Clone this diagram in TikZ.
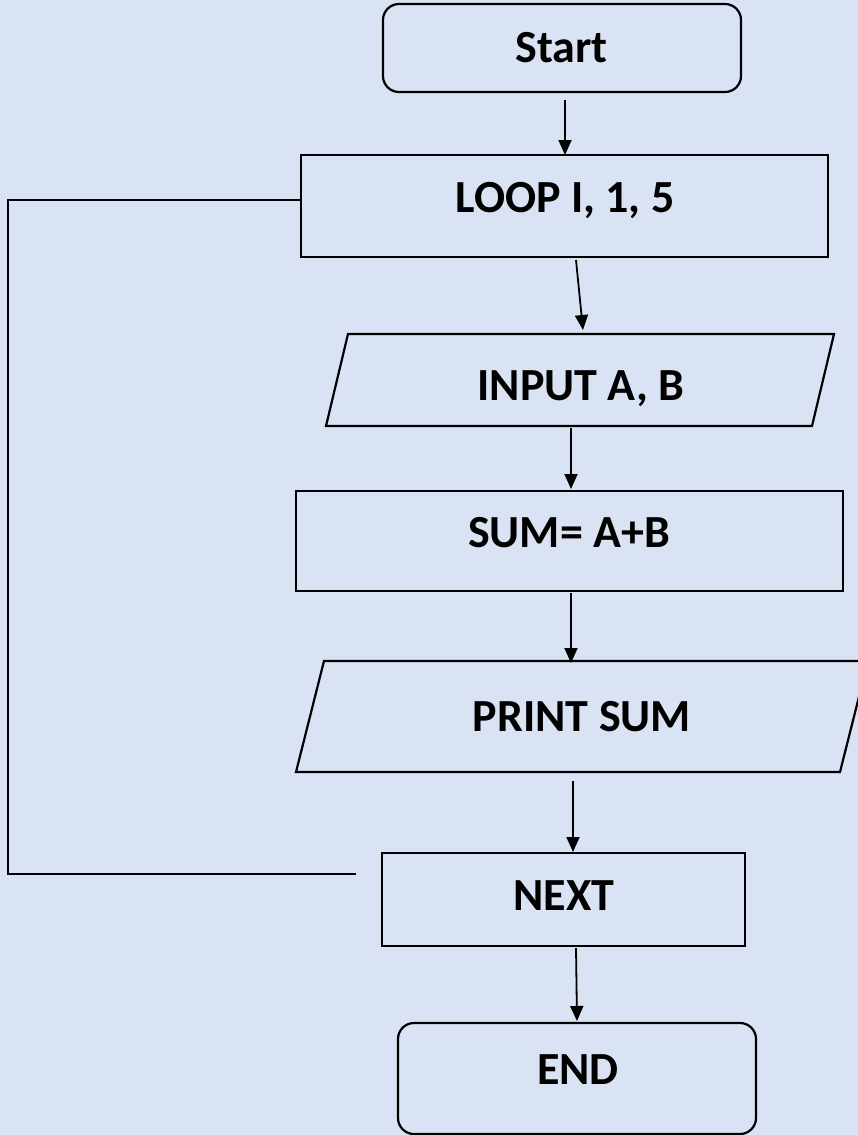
\documentclass[tikz,border=0pt]{standalone}
\usepackage{fontspec}
\setmainfont{Carlito}
\usetikzlibrary{arrows.meta}
\definecolor{bgblue}{HTML}{DAE3F3}
\tikzset{
  boxline/.style={draw=black, line width=2.2pt},
  rbox/.style={boxline, rectangle, inner sep=0pt, outer sep=0pt},
  rrbox/.style={rbox, rounded corners=16pt},
  pbox/.style={rectangle, inner sep=0pt, outer sep=0pt},
  txt/.style={inner sep=0pt, text height=30pt, text depth=0pt, font=\bfseries\fontsize{46}{50}\selectfont},
  arr/.style={line width=1.8pt, -{Triangle[length=15pt,width=13pt]}},
  link/.style={line width=1.8pt}
}
\begin{document}
\begin{tikzpicture}[x=1pt,y=-1pt]
\useasboundingbox (0,0) rectangle (858,1135);
\fill[bgblue] (0,0) rectangle (858,1135);

% shapes
\node[rrbox, minimum width=358pt, minimum height=88pt] (start) at (562,48) {};
\node[rbox, minimum width=527pt, minimum height=102pt] (loop) at (564.5,206) {};
\node[pbox, minimum width=508pt, minimum height=92pt] (input) at (580,380) {};
\draw[boxline] (input.south west) -- ([xshift=-22pt]input.south east) -- (input.north east) -- ([xshift=22pt]input.north west) -- cycle;
\node[rbox, minimum width=547pt, minimum height=100pt] (sum) at (569.5,541) {};
\node[pbox, minimum width=572pt, minimum height=111pt] (print) at (582,716.5) {};
\draw[boxline] (print.south west) -- ([xshift=-28pt]print.south east) -- (print.north east) -- ([xshift=28pt]print.north west) -- cycle;
\node[rbox, minimum width=363pt, minimum height=93pt] (next) at (563.5,899.5) {};
\node[rrbox, minimum width=358pt, minimum height=111pt] (end) at (577,1078.5) {};

% texts
\node[txt] (startT) at (561.5,47) {Start};
\node[txt] (loopT) at (565,197) {LOOP I, 1, 5};
\node[txt] (inputT) at (581,385.5) {INPUT A, B};
\node[txt] (sumT) at (569,532.5) {SUM= A+B};
\node[txt] (printT) at (582,716) {PRINT SUM};
\node[txt] (nextT) at (564,895) {NEXT};
\node[txt] (endT) at (578,1069) {END};

% connectors
\draw[arr] ([xshift=3pt,yshift=-8pt]start.south) -- ([xshift=0.5pt]loop.north);
\draw[arr] ([xshift=11.5pt,yshift=-3pt]loop.south) -- ([xshift=3pt,yshift=4pt]input.north);
\draw[arr] ([xshift=-9pt,yshift=-2pt]input.south) -- ([xshift=1.5pt,yshift=2pt]sum.north);
\draw[arr] ([xshift=1.5pt,yshift=-2pt]sum.south) -- ([xshift=-11pt,yshift=-2pt]print.north);
\draw[arr] ([xshift=-9pt,yshift=-9pt]print.south) -- ([xshift=9.5pt,yshift=1pt]next.north);
\draw[arr] ([xshift=12.5pt,yshift=-2pt]next.south) -- ([yshift=2pt]end.north);
\coordinate (loopend) at (356,874);
\draw[link] (loopend) -- (8,874) -- (8,200) -- ([yshift=6pt]loop.west);
\end{tikzpicture}
\end{document}
